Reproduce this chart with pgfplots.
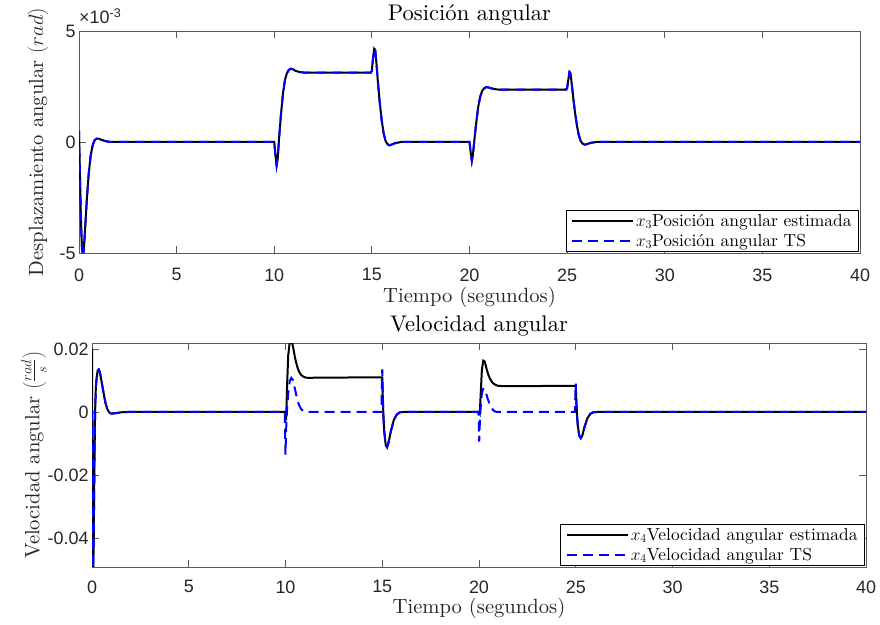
\documentclass[border=0pt]{standalone}
\usepackage{pgfplots}
\pgfplotsset{compat=1.18}
\usepackage{pgfplotstable}
\usepackage{fontspec}
\setmainfont{lmroman10-regular.otf}[ItalicFont=lmroman10-italic.otf,BoldFont=lmroman10-bold.otf]
\newfontfamily\ticksf{Liberation Sans}

\definecolor{axgray}{gray}{0.35}
\definecolor{txtgray}{gray}{0.15}

% Angular position (units of 1e-3 rad)
\pgfplotstableread{
t y
0 0.5
0.05 -1.5
0.1 -3.5
0.15 -4.7
0.2 -5.15
0.25 -4.8
0.3 -4.1
0.4 -2.6
0.5 -1.4
0.6 -0.6
0.7 -0.15
0.8 0.08
0.9 0.15
1.0 0.15
1.1 0.12
1.2 0.08
1.4 0.03
1.6 0.0
10.0 0
10.05 -0.5
10.12 -1.05
10.18 -0.7
10.25 0.2
10.35 1.3
10.45 2.2
10.55 2.8
10.65 3.1
10.75 3.25
10.85 3.3
10.95 3.28
11.1 3.2
11.3 3.15
11.5 3.13
14.95 3.13
15.0 3.2
15.05 3.7
15.12 4.2
15.17 4.15
15.22 3.7
15.3 2.8
15.4 1.8
15.5 1.0
15.6 0.4
15.7 0.05
15.8 -0.1
15.9 -0.15
16.0 -0.12
16.2 -0.05
16.5 0
20.0 0
20.05 -0.4
20.12 -0.85
20.18 -0.55
20.25 0.1
20.35 0.9
20.45 1.6
20.55 2.05
20.65 2.3
20.75 2.42
20.85 2.47
20.95 2.46
21.1 2.42
21.3 2.38
21.5 2.36
24.95 2.36
25.0 2.42
25.05 2.75
25.12 3.15
25.17 3.1
25.22 2.75
25.3 2.1
25.4 1.35
25.5 0.75
25.6 0.3
25.7 0.03
25.8 -0.08
25.9 -0.12
26.0 -0.1
26.2 -0.04
26.5 0
40 0
}\posest

\pgfplotstableread{
t y
0 0.5
0.05 -1.6
0.1 -3.6
0.15 -4.8
0.2 -5.25
0.25 -4.85
0.3 -4.1
0.4 -2.6
0.5 -1.4
0.6 -0.6
0.7 -0.15
0.8 0.08
0.9 0.15
1.0 0.15
1.1 0.12
1.2 0.08
1.4 0.03
1.6 0.0
10.0 0
10.05 -0.5
10.12 -1.05
10.18 -0.7
10.25 0.2
10.35 1.3
10.45 2.2
10.55 2.8
10.65 3.1
10.75 3.25
10.85 3.3
10.95 3.28
11.1 3.2
11.3 3.15
11.5 3.13
14.95 3.13
15.0 3.2
15.05 3.7
15.12 4.2
15.17 4.15
15.22 3.7
15.3 2.8
15.4 1.8
15.5 1.0
15.6 0.4
15.7 0.05
15.8 -0.1
15.9 -0.15
16.0 -0.12
16.2 -0.05
16.5 0
20.0 0
20.05 -0.4
20.12 -0.85
20.18 -0.55
20.25 0.1
20.35 0.9
20.45 1.6
20.55 2.05
20.65 2.3
20.75 2.42
20.85 2.47
20.95 2.46
21.1 2.42
21.3 2.38
21.5 2.36
24.95 2.36
25.0 2.42
25.05 2.75
25.12 3.15
25.17 3.1
25.22 2.75
25.3 2.1
25.4 1.35
25.5 0.75
25.6 0.3
25.7 0.03
25.8 -0.08
25.9 -0.12
26.0 -0.1
26.2 -0.04
26.5 0
40 0
}\posts

% Angular velocity (rad/s)
\pgfplotstableread{
t y
0 0.02
0.02 -0.01
0.04 -0.04
0.06 -0.052
0.09 -0.04
0.12 -0.02
0.16 0
0.2 0.008
0.25 0.0115
0.3 0.0132
0.35 0.0135
0.4 0.0128
0.5 0.0095
0.6 0.006
0.7 0.0028
0.8 0.0008
0.9 -0.0002
1.0 -0.0005
1.2 -0.0004
1.5 -0.0001
1.8 0
10.0 0
10.04 -0.001
10.08 0.008
10.14 0.018
10.22 0.0222
10.3 0.0228
10.38 0.021
10.5 0.017
10.6 0.0145
10.7 0.0128
10.8 0.0118
10.9 0.0113
11.0 0.011
11.2 0.0108
11.5 0.0109
14.98 0.011
15.0 0.011
15.04 0.002
15.1 -0.006
15.18 -0.0105
15.25 -0.0112
15.32 -0.0098
15.45 -0.006
15.6 -0.0025
15.75 -0.0008
15.9 -0.0001
16.1 0
20 0
20.04 -0.0005
20.09 0.006
20.15 0.0135
20.22 0.0163
20.3 0.016
20.4 0.0135
20.5 0.0115
20.6 0.0102
20.7 0.0093
20.8 0.0088
20.9 0.0085
21.0 0.0083
21.3 0.0082
24.98 0.0083
25.0 0.0083
25.04 0.002
25.1 -0.004
25.18 -0.0075
25.26 -0.0083
25.34 -0.0075
25.45 -0.0048
25.6 -0.002
25.75 -0.0006
25.9 -0.0001
26.1 0
40 0
}\velest

\pgfplotstableread{
t y
0 0
0.02 -0.02
0.04 -0.045
0.06 -0.052
0.09 -0.04
0.12 -0.02
0.16 0
0.2 0.008
0.25 0.0115
0.3 0.0132
0.35 0.0135
0.4 0.0128
0.5 0.0095
0.6 0.006
0.7 0.0028
0.8 0.0008
0.9 -0.0002
1.0 -0.0005
1.2 -0.0004
1.5 -0.0001
1.8 0
9.96 0
9.98 -0.006
10.0 -0.0135
10.03 -0.006
10.07 0.0
10.14 0.006
10.22 0.0098
10.3 0.0108
10.38 0.0102
10.5 0.007
10.6 0.0042
10.7 0.0022
10.8 0.001
10.9 0.0004
11.0 0.0001
11.2 0
14.96 0
14.98 0.009
15.0 0.0135
15.02 0.008
15.06 -0.002
15.1 -0.006
15.18 -0.0105
15.25 -0.0112
15.32 -0.0098
15.45 -0.006
15.6 -0.0025
15.75 -0.0008
15.9 -0.0001
16.1 0
19.97 0
19.99 -0.004
20.01 -0.0094
20.04 -0.004
20.08 0.001
20.14 0.0055
20.2 0.0072
20.26 0.0075
20.34 0.0065
20.45 0.0042
20.55 0.0025
20.65 0.0012
20.75 0.0005
20.85 0.0001
21.0 0
24.96 0
24.98 0.006
25.0 0.009
25.02 0.005
25.06 -0.001
25.1 -0.004
25.18 -0.0075
25.26 -0.0083
25.34 -0.0075
25.45 -0.0048
25.6 -0.002
25.75 -0.0006
25.9 -0.0001
26.1 0
40 0
}\velts

\pgfplotsset{
  matlabaxis/.style={
    scale only axis,
    clip mode=individual,
    scaled y ticks=false,
    scaled x ticks=false,
    axis line style={axgray, line width=0.8bp},
    tick style={axgray, line width=0.8bp},
    tick align=inside,
    major tick length=7bp,
    xmin=0, xmax=40,
    xtick={0,5,...,40},
    xticklabels={0,5,10,15,20,25,30,35,40},
    tick label style={font=\ticksf\fontsize{18}{20}\selectfont, text=txtgray},
    label style={font=\fontsize{20.7}{24}\selectfont, text=txtgray},
    title style={font=\fontsize{22.7}{26}\selectfont, text=black},
    legend style={font=\fontsize{17.5}{19}\selectfont, draw=black, line width=0.8bp,
      fill=white, at={(1,0)}, anchor=south east, xshift=-1bp, yshift=1bp,
      inner xsep=5bp, inner ysep=2bp, row sep=2bp,
      cells={anchor=west}},
    legend image code/.code={\draw[##1] (0bp,0bp) -- (61bp,0bp);},
    estline/.style={black, line width=2bp},
    tsline/.style={blue, line width=2bp, dash pattern=on 10bp off 6bp},
  }
}

\begin{document}
\begin{tikzpicture}
\useasboundingbox (0,0) rectangle (880bp,625bp);

\begin{axis}[
  matlabaxis,
  at={(79bp,372bp)}, anchor=south west,
  width=781bp, height=222bp,
  ymin=-5, ymax=5,
  ytick={-5,0,5},
  yticklabels={-5,0,5},
  xticklabel style={yshift=-12bp},
  title={Posición angular},
  title style={at={(0.5,1)}, anchor=base, yshift=5bp},
  xlabel={Tiempo (segundos)},
  xlabel style={at={(0.5,0)}, anchor=base, yshift=-50bp},
  ylabel={Desplazamiento angular $(rad)$},
  ylabel style={at={(0,0.5)}, anchor=center, yshift=41bp},
]
\addplot[estline] table[x=t,y=y] {\posest};
\addlegendentry{$x_3$Posición angular estimada}
\addplot[tsline] table[x=t,y=y] {\posts};
\addlegendentry{$x_3$Posición angular TS}
\node[anchor=base west, font=\ticksf\fontsize{18}{20}\selectfont, text=txtgray, inner sep=0pt]
  at (axis description cs:0,1) [yshift=7bp] {×10\textsuperscript{-3}};
\end{axis}

\begin{axis}[
  matlabaxis,
  at={(92bp,58bp)}, anchor=south west,
  width=774bp, height=224bp,
  ymin=-0.0492, ymax=0.0219,
  ytick={-0.04,-0.02,0,0.02},
  yticklabels={-0.04,-0.02,0,0.02},
  xticklabel style={yshift=-10bp},
  title={Velocidad angular},
  title style={at={(0.5,1)}, anchor=base, yshift=6bp},
  xlabel={Tiempo (segundos)},
  xlabel style={at={(0.5,0)}, anchor=base, yshift=-46bp},
  ylabel={Velocidad angular $\left(\frac{rad}{s}\right)$},
  ylabel style={at={(0,0.5)}, anchor=center, yshift=58bp},
]
\addplot[estline] table[x=t,y=y] {\velest};
\addlegendentry{$x_4$Velocidad angular estimada}
\addplot[tsline] table[x=t,y=y] {\velts};
\addlegendentry{$x_4$Velocidad angular TS}
\end{axis}
\end{tikzpicture}
\end{document}
